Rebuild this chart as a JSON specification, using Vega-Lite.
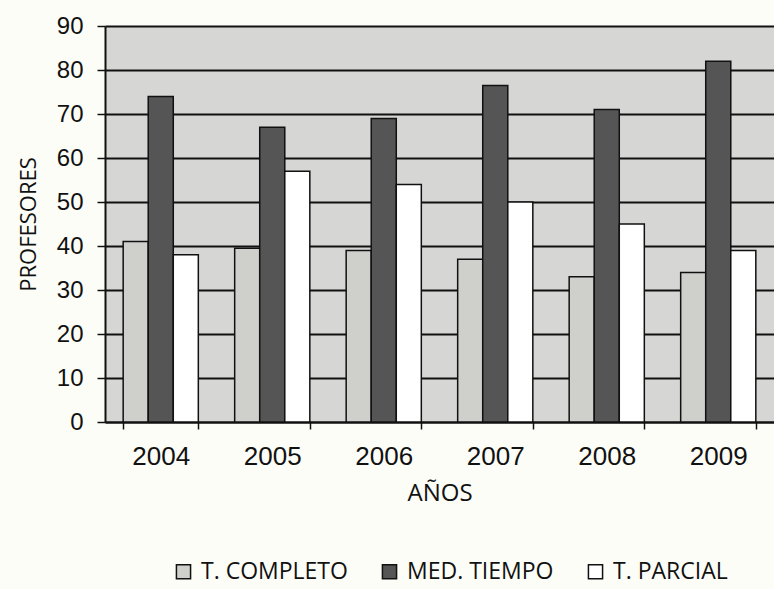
{
  "$schema": "https://vega.github.io/schema/vega-lite/v6.json",
  "width": 669,
  "height": 396,
  "autosize": "none",
  "padding": {"left": 105, "top": 26, "right": 0, "bottom": 167},
  "background": "#fdfdf8",
  "config": {
    "view": {"fill": "#d6d6d4", "stroke": null},
    "axis": {"labelFont": "Liberation Sans", "titleFont": "Open Sans", "labelColor": "#111", "titleColor": "#111", "titleFontWeight": "normal", "domainColor": "#111", "tickColor": "#111", "domainWidth": 2, "tickWidth": 1.5}
  },
  "data": {
    "values": [
      {"year": "2004", "serie": "T. COMPLETO", "v": 41},
      {"year": "2004", "serie": "MED. TIEMPO", "v": 74},
      {"year": "2004", "serie": "T. PARCIAL", "v": 38},
      {"year": "2005", "serie": "T. COMPLETO", "v": 39.5},
      {"year": "2005", "serie": "MED. TIEMPO", "v": 67},
      {"year": "2005", "serie": "T. PARCIAL", "v": 57},
      {"year": "2006", "serie": "T. COMPLETO", "v": 39},
      {"year": "2006", "serie": "MED. TIEMPO", "v": 69},
      {"year": "2006", "serie": "T. PARCIAL", "v": 54},
      {"year": "2007", "serie": "T. COMPLETO", "v": 37},
      {"year": "2007", "serie": "MED. TIEMPO", "v": 76.5},
      {"year": "2007", "serie": "T. PARCIAL", "v": 50},
      {"year": "2008", "serie": "T. COMPLETO", "v": 33},
      {"year": "2008", "serie": "MED. TIEMPO", "v": 71},
      {"year": "2008", "serie": "T. PARCIAL", "v": 45},
      {"year": "2009", "serie": "T. COMPLETO", "v": 34},
      {"year": "2009", "serie": "MED. TIEMPO", "v": 82},
      {"year": "2009", "serie": "T. PARCIAL", "v": 39}
    ]
  },
  "mark": {"type": "bar", "stroke": "#111", "strokeWidth": 1.5},
  "encoding": {
    "x": {
      "field": "year", "type": "nominal", "title": "AÑOS",
      "scale": {"paddingInner": 0.326, "paddingOuter": 0.163},
      "axis": {"labelAngle": 0, "labelFontSize": 26, "labelPadding": 14, "titleFontSize": 24, "titlePadding": 12, "tickBand": "extent", "tickSize": 7, "grid": false}
    },
    "xOffset": {"field": "serie", "type": "nominal", "sort": ["T. COMPLETO", "MED. TIEMPO", "T. PARCIAL"], "scale": {"paddingInner": 0, "paddingOuter": 0}},
    "y": {
      "field": "v", "type": "quantitative", "title": "PROFESORES",
      "scale": {"domain": [0, 90], "nice": false},
      "axis": {"values": [0,10,20,30,40,50,60,70,80,90], "grid": true, "gridColor": "#111", "gridWidth": 2, "gridOpacity": 1, "tickSize": 8, "labelFontSize": 24, "labelPadding": 14, "titleFont": "Open Sans", "titleFontSize": 22, "titlePadding": 16}
    },
    "fill": {
      "field": "serie", "type": "nominal",
      "sort": ["T. COMPLETO", "MED. TIEMPO", "T. PARCIAL"],
      "scale": {"domain": ["T. COMPLETO", "MED. TIEMPO", "T. PARCIAL"], "range": ["#cfcfcc", "#555555", "#ffffff"]},
      "legend": {
        "title": null, "orient": "none", "direction": "horizontal",
        "legendX": 67, "legendY": 534,
        "symbolType": "square", "symbolSize": 200, "symbolStrokeColor": "#111", "symbolStrokeWidth": 1.5,
        "labelFont": "Open Sans", "labelFontSize": 23, "labelColor": "#111", "columnPadding": 30, "labelOffset": 6
      }
    }
  }
}
